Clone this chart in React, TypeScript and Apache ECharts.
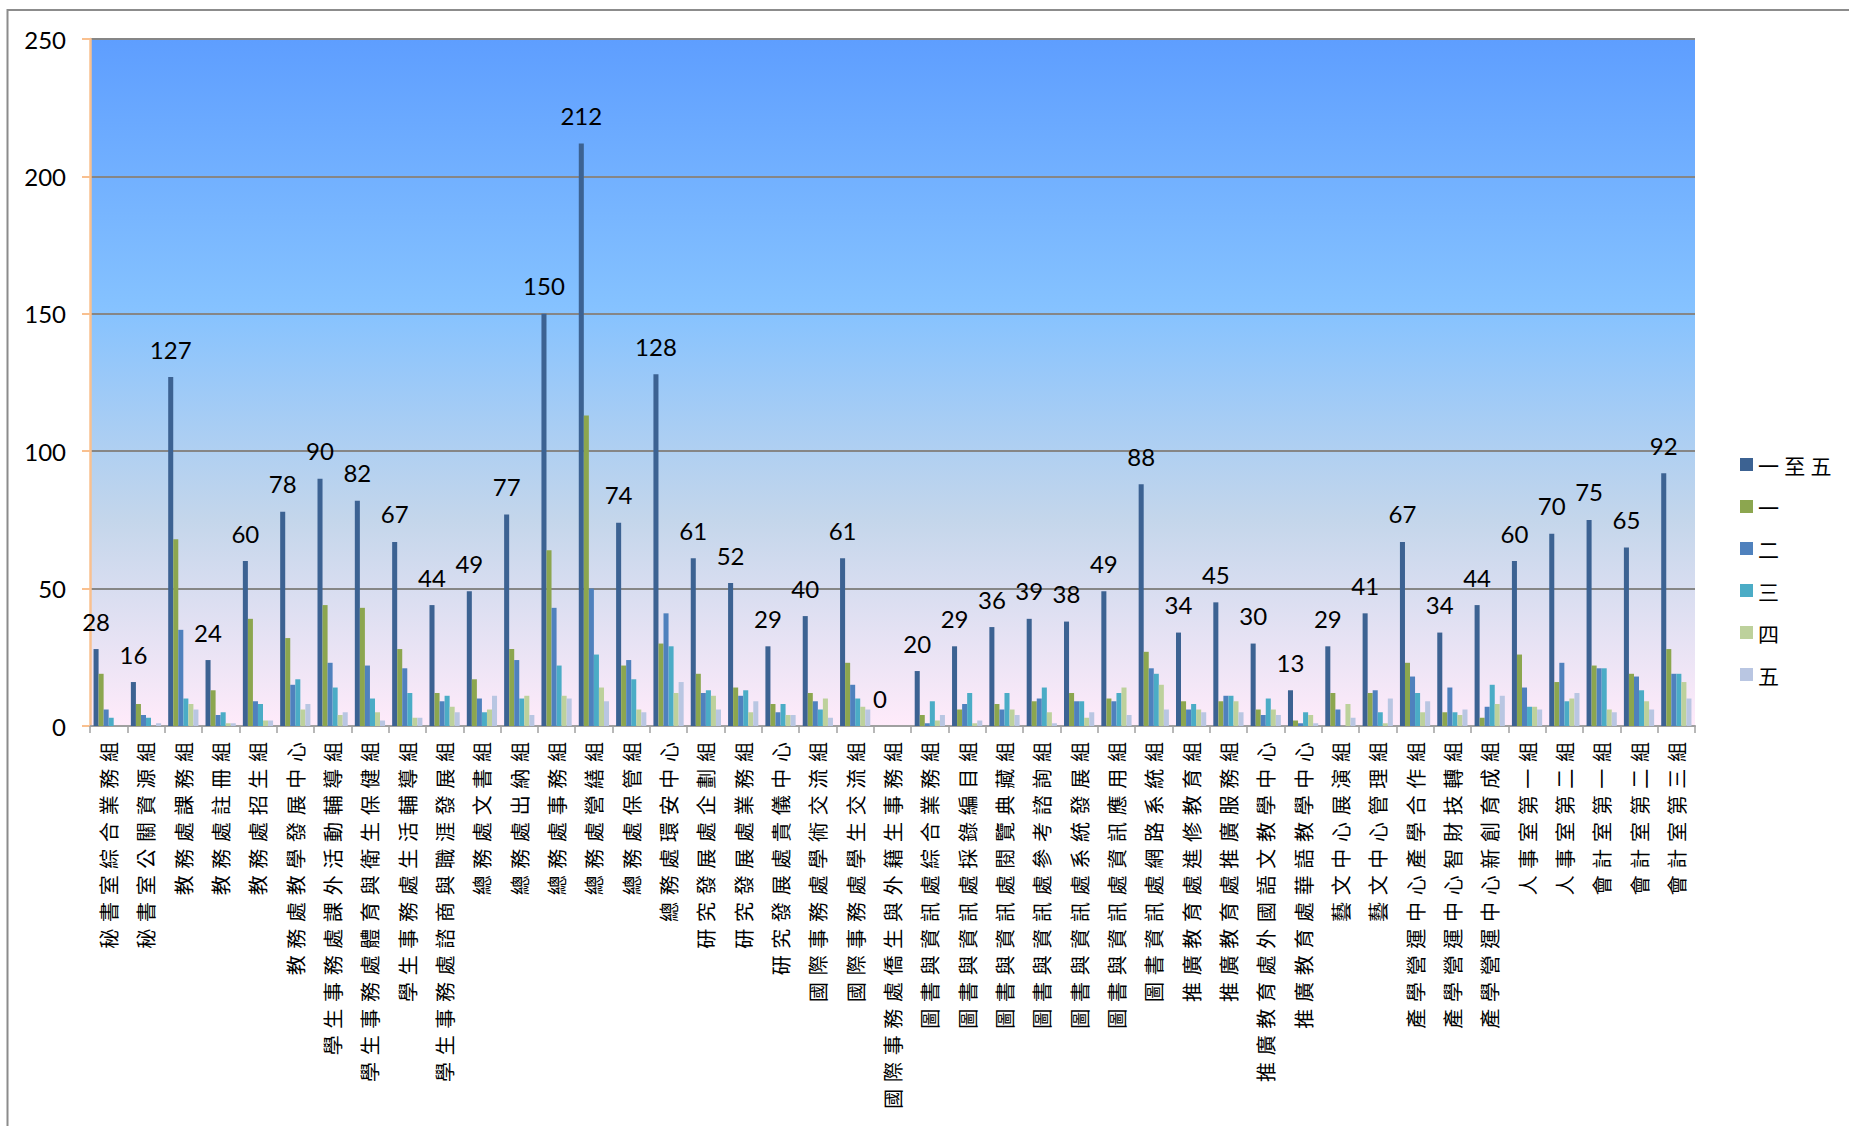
import React, { useEffect, useRef } from "react";
import * as echarts from "echarts";

const categories = [
  "秘書室綜合業務組", "秘書室公關資源組", "教務處課務組", "教務處註冊組", "教務處招生組",
  "教務處教學發展中心", "學生事務處課外活動輔導組", "學生事務處體育與衛生保健組", "學生事務處生活輔導組", "學生事務處諮商與職涯發展組",
  "總務處文書組", "總務處出納組", "總務處事務組", "總務處營繕組", "總務處保管組",
  "總務處環安中心", "研究發展處企劃組", "研究發展處業務組", "研究發展處貴儀中心", "國際事務處學術交流組",
  "國際事務處學生交流組", "國際事務處僑生與外籍生事務組", "圖書與資訊處綜合業務組", "圖書與資訊處採錄編目組", "圖書與資訊處閱覽典藏組",
  "圖書與資訊處參考諮詢組", "圖書與資訊處系統發展組", "圖書與資訊處資訊應用組", "圖書資訊處網路系統組", "推廣教育處進修教育組",
  "推廣教育處推廣服務組", "推廣教育處外國語文教學中心", "推廣教育處華語教學中心", "藝文中心展演組", "藝文中心管理組",
  "產學營運中心產學合作組", "產學營運中心智財技轉組", "產學營運中心新創育成組", "人事室第一組", "人事室第二組",
  "會計室第一組", "會計室第二組", "會計室第三組",
];

const seriesNames = ["一至五", "一", "二", "三", "四", "五"];

const total = [28, 16, 127, 24, 60, 78, 90, 82, 67, 44, 49, 77, 150, 212, 74, 128, 61, 52, 29, 40, 61, 0, 20, 29, 36, 39, 38, 49, 88, 34, 45, 30, 13, 29, 41, 67, 34, 44, 60, 70, 75, 65, 92];
const s1 = [19, 8, 68, 13, 39, 32, 44, 43, 28, 12, 17, 28, 64, 113, 22, 30, 19, 14, 8, 12, 23, 0, 4, 6, 8, 9, 12, 10, 27, 9, 9, 6, 2, 12, 12, 23, 5, 3, 26, 16, 22, 19, 28];
const s2 = [6, 4, 35, 4, 9, 15, 23, 22, 21, 9, 10, 24, 43, 50, 24, 41, 12, 11, 5, 9, 15, 0, 1, 8, 6, 10, 9, 9, 21, 6, 11, 4, 1, 6, 13, 18, 14, 7, 14, 23, 21, 18, 19];
const s3 = [3, 3, 10, 5, 8, 17, 14, 10, 12, 11, 5, 10, 22, 26, 17, 29, 13, 13, 8, 6, 10, 0, 9, 12, 12, 14, 9, 12, 19, 8, 11, 10, 5, 0, 5, 12, 5, 15, 7, 9, 21, 13, 19];
const s4 = [0, 0, 8, 1, 2, 6, 4, 5, 3, 7, 6, 11, 11, 14, 6, 12, 11, 5, 4, 10, 7, 0, 2, 1, 6, 5, 3, 14, 15, 6, 9, 6, 4, 8, 1, 5, 4, 8, 7, 10, 6, 9, 16];
const s5 = [0, 1, 6, 1, 2, 8, 5, 2, 3, 5, 11, 4, 10, 9, 5, 16, 6, 9, 4, 3, 6, 0, 4, 2, 4, 1, 5, 4, 6, 5, 5, 4, 1, 3, 10, 9, 6, 11, 6, 12, 5, 6, 10];

const seriesData = [total, s1, s2, s3, s4, s5];
const colors = ["#3C6292", "#8CA64F", "#4F81BD", "#4BACC6", "#BDD19C", "#B9C6E2"];

const yMin = 0;
const yMax = 250;
const yInterval = 50;

const CJK = '"Noto Sans CJK TC", "Noto Sans CJK SC", sans-serif';
const NUM = 'Lato, "Open Sans", sans-serif';

export default function App() {
  const ref = useRef<HTMLDivElement>(null);

  useEffect(() => {
    if (!ref.current) return;
    const chart = echarts.init(ref.current, null, { renderer: "svg" });

    const series = seriesNames.map((name, i) => ({
      name,
      type: "bar",
      data: seriesData[i],
      barGap: "0%",
      barCategoryGap: "19%",
      itemStyle: { color: colors[i] },
      label:
        i === 0
          ? {
              show: true,
              position: "top",
              distance: 16,
              fontSize: 24,
              fontFamily: NUM,
              color: "#000",
            }
          : { show: false },
    }));

    chart.setOption({
      animation: false,
      backgroundColor: "#ffffff",
      graphic: [
        {
          type: "rect",
          shape: { x: 7.5, y: 10, width: 1900, height: 1200 },
          style: { fill: "none", stroke: "#8c8c8c", lineWidth: 2 },
          silent: true,
          z: -10,
        },
      ],
      grid: {
        left: 90,
        top: 39,
        width: 1605,
        height: 687,
        show: true,
        borderWidth: 0,
        containLabel: false,
        outerBoundsMode: "none",
        backgroundColor: {
          type: "linear",
          x: 0,
          y: 0,
          x2: 0,
          y2: 1,
          colorStops: [
            { offset: 0, color: "#5E9EFF" },
            { offset: 0.39, color: "#85C2FF" },
            { offset: 0.7, color: "#C4D6EB" },
            { offset: 1, color: "#FFEBFA" },
          ],
        },
      },
      legend: {
        orient: "vertical",
        left: 1735,
        top: 449,
        itemWidth: 13,
        itemHeight: 13,
        itemGap: 21,
        icon: "path://M0,0L10,0L10,10L0,10Z",
        itemStyle: { borderWidth: 0 },
        selectedMode: false,
        data: seriesNames,
        formatter: (name: string) => name.split("").join("\u2005"),
        textStyle: { fontSize: 21, lineHeight: 21, fontFamily: CJK, color: "#000" },
      },
      xAxis: {
        type: "category",
        data: categories,
        axisLine: { show: true, lineStyle: { color: "#A0A0A0", width: 2 } },
        axisTick: { show: true, length: 7, lineStyle: { color: "#A0A0A0", width: 1.5 } },
        axisLabel: {
          interval: 0,
          rotate: 90,
          margin: 16,
          fontSize: 20,
          fontFamily: CJK,
          color: "#000",
          formatter: (s: string) => s.split("").join("\u2004"),
        },
        splitLine: { show: false },
      },
      yAxis: {
        type: "value",
        min: yMin,
        max: yMax,
        interval: yInterval,
        axisLine: { show: true, lineStyle: { color: "#F9C08F", width: 2.5 } },
        axisTick: { show: true, length: 8, lineStyle: { color: "#F9C08F", width: 2 } },
        axisLabel: { fontSize: 24, fontFamily: NUM, color: "#000", margin: 24 },
        splitLine: { show: true, lineStyle: { color: "#868686", width: 2 } },
      },
      series,
    });

    return () => chart.dispose();
  }, []);

  return (
    <div
      ref={ref}
      style={{ position: "fixed", left: 0, top: 0, width: 1849, height: 1126, background: "#fff" }}
    />
  );
}
